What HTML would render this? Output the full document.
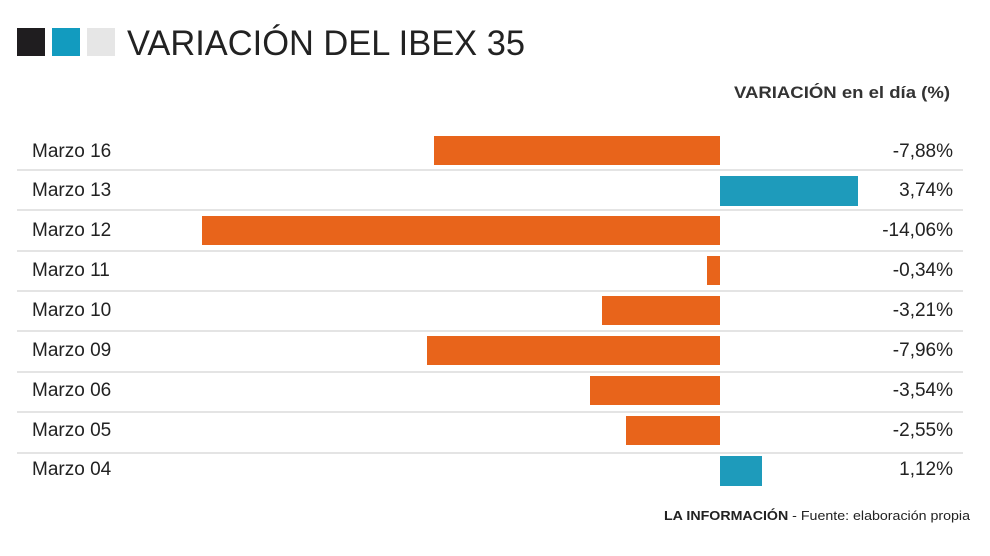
<!DOCTYPE html>
<html><head><meta charset="utf-8"><style>
body{margin:0;background:#fff}
svg{display:block}
text{font-family:"Liberation Sans",sans-serif}
</style></head><body>
<svg width="990" height="556" viewBox="0 0 990 556">
<rect x="17" y="28" width="28" height="28" fill="#1f1d1f"/>
<rect x="52" y="28" width="28" height="28" fill="#129bbf"/>
<rect x="87" y="28" width="28" height="28" fill="#e6e6e6"/>
<text x="127" y="55" font-size="35" fill="#222" textLength="398" lengthAdjust="spacingAndGlyphs">VARIACIÓN DEL IBEX 35</text>
<text x="950" y="98" font-size="17" font-weight="bold" fill="#333" text-anchor="end" textLength="216" lengthAdjust="spacingAndGlyphs">VARIACIÓN en el día (%)</text>
<g stroke="#e4e4e4" stroke-width="2">
<line x1="17" x2="963" y1="170" y2="170"/><line x1="17" x2="963" y1="210" y2="210"/>
<line x1="17" x2="963" y1="251" y2="251"/><line x1="17" x2="963" y1="291" y2="291"/>
<line x1="17" x2="963" y1="331" y2="331"/><line x1="17" x2="963" y1="372" y2="372"/>
<line x1="17" x2="963" y1="412" y2="412"/><line x1="17" x2="963" y1="453" y2="453"/>
</g>
<g fill="#e8641b">
<rect x="434" y="136" width="286" height="29"/>
<rect x="202" y="216" width="518" height="29"/>
<rect x="707" y="256" width="13" height="29"/>
<rect x="602" y="296" width="118" height="29"/>
<rect x="427" y="336" width="293" height="29"/>
<rect x="590" y="376" width="130" height="29"/>
<rect x="626" y="416" width="94" height="29"/>
</g>
<g fill="#1e9bbb">
<rect x="720" y="176" width="138" height="30"/>
<rect x="720" y="456" width="42" height="30"/>
</g>
<g font-size="19" fill="#222">
<text x="32" y="157">Marzo 16</text><text x="32" y="196">Marzo 13</text>
<text x="32" y="236">Marzo 12</text><text x="32" y="276">Marzo 11</text>
<text x="32" y="316">Marzo 10</text><text x="32" y="356">Marzo 09</text>
<text x="32" y="396">Marzo 06</text><text x="32" y="436">Marzo 05</text>
<text x="32" y="475">Marzo 04</text>
</g>
<g font-size="19" fill="#222" text-anchor="end">
<text x="953" y="157">-7,88%</text><text x="953" y="196">3,74%</text>
<text x="953" y="236">-14,06%</text><text x="953" y="276">-0,34%</text>
<text x="953" y="316">-3,21%</text><text x="953" y="356">-7,96%</text>
<text x="953" y="396">-3,54%</text><text x="953" y="436">-2,55%</text>
<text x="953" y="475">1,12%</text>
</g>
<text x="970" y="520" font-size="13" fill="#222" text-anchor="end" textLength="306" lengthAdjust="spacingAndGlyphs"><tspan font-weight="bold">LA INFORMACIÓN</tspan> - Fuente: elaboración propia</text>
</svg>
</body></html>
